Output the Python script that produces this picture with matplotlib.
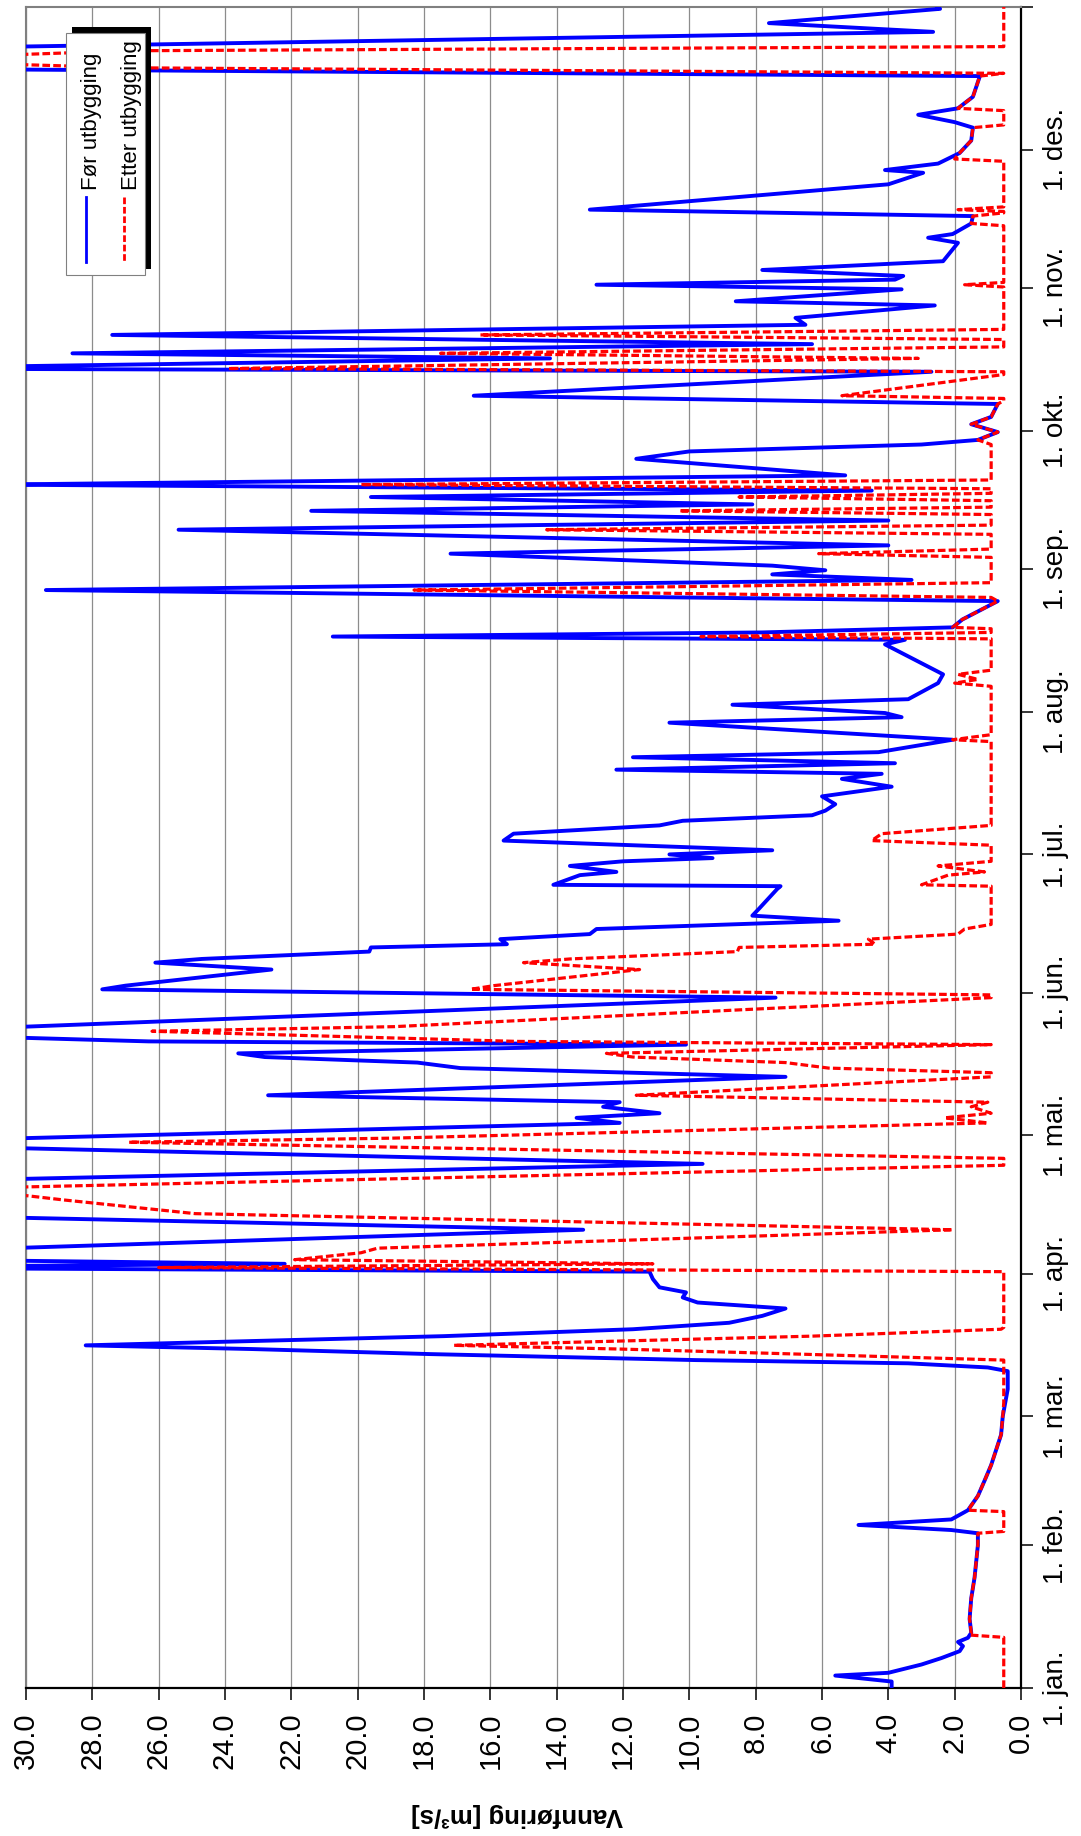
import matplotlib
matplotlib.use("Agg")
import matplotlib.pyplot as plt
from matplotlib.patches import Rectangle
from matplotlib.lines import Line2D

plt.rcParams["font.family"] = ["Liberation Sans", "DejaVu Sans"]


# --------------------------------
# DATA  (day of year, m3/s)
# --------------------------------

for_days = [
    0, 1.4, 2.7, 3.3, 5.1, 6.5, 8.0, 9.1, 10.0, 10.9, 12.0, 15.0, 19.5, 24.0,
    31.0, 33.6, 34.3, 35.4, 36.6, 38.6, 41.7, 45.0, 48.4, 51.7, 55.0, 59.0,
    64.9, 68.8, 69.6, 70.5, 71.2, 72.5, 73.6, 74.4, 75.0, 76.4, 77.9, 79.3,
    80.8, 82.4, 83.7, 84.8, 85.9, 87.0, 88.8, 90.4, 91.3, 92.1, 93.0, 94.5,
    95.5, 99.5, 103.0, 106.0, 108.5, 113.8, 118.5, 119.4, 122.7, 123.8, 124.8,
    126.2, 127.2, 128.7, 132.7, 134.6, 135.8, 137.0, 137.8, 139.7, 140.4,
    142.6, 143.6, 149.9, 151.7, 152.5, 156.0, 157.5, 158.3, 159.9, 160.8,
    161.5, 162.6, 163.7, 164.8, 166.6, 167.7, 169.2, 173.5, 174.1, 174.4,
    176.5, 177.2, 178.5, 179.5, 180.2, 181.0, 181.9, 184.0, 185.5, 187.3,
    188.3, 189.5, 190.5, 191.9, 193.6, 195.7, 197.4, 198.5, 199.4, 200.8,
    202.1, 203.2, 205.9, 209.6, 210.8, 211.7, 213.5, 214.7, 218.2, 220.1,
    226.6, 227.6, 228.3, 229.2, 230.3, 232.0, 236.0, 238.4, 240.6, 241.8,
    242.7, 243.7, 246.3, 248.1, 251.5, 253.5, 255.6, 257.0, 258.6, 260.0,
    261.3, 263.3, 266.9, 268.5, 270.0, 271.0, 272.7, 274.4, 276.0, 278.8,
    280.6, 285.8, 286.5, 288.7, 289.8, 291.8, 293.8, 296.0, 297.5, 300.2,
    301.1, 303.7, 304.7, 305.8, 306.6, 307.9, 309.8, 313.8, 314.9, 315.7,
    318.0, 319.6, 321.0, 326.5, 329.0, 329.6, 331.0, 333.3, 336.0, 338.8,
    340.0, 341.6, 343.0, 345.5, 350.0, 351.8, 353.5, 355.5, 359.6, 361.5,
    364.6, 365.0,
]

for_flow = [
    3.9, 3.9, 5.6, 4.0, 3.0, 2.4, 1.85, 1.75, 1.9, 1.6, 1.5, 1.55, 1.5, 1.4,
    1.3, 1.3, 2.1, 4.9, 2.1, 1.6, 1.3, 1.1, 0.9, 0.75, 0.6, 0.55,
    0.4, 0.4, 1.0, 3.4, 9.8, 17.8, 23.2, 28.2, 25.0, 17.4, 11.7, 8.8,
    7.8, 7.1, 9.75, 10.2, 10.1, 10.9, 11.1, 11.2, 37.0, 22.2, 33.0, 31.0,
    30.5, 13.2, 36.0, 40.0, 43.0, 9.6, 38.0, 30.0, 12.1, 13.4, 10.9,
    12.6, 12.1, 22.7, 7.1, 16.9, 18.2, 22.8, 23.6, 10.1, 26.3,
    37.0, 30.0, 7.4, 27.7, 27.0, 22.6, 26.1, 24.7, 19.65, 19.6,
    15.5, 15.7, 13.0, 12.8, 5.5, 8.1, 7.9, 7.35, 7.25, 14.1,
    13.3, 12.2, 13.6, 12.0, 9.3, 10.6, 7.5, 15.6, 15.3, 10.9,
    10.2, 6.3, 5.9, 5.6, 6.0, 3.9, 5.4, 4.2, 12.2, 3.8,
    11.7, 4.3, 2.06, 10.6, 3.6, 4.1, 8.7, 3.4, 2.5, 2.35,
    4.1, 3.5, 20.75, 7.8, 2.06, 1.77, 0.7, 29.4, 3.3, 7.5,
    5.9, 7.5, 17.2, 4.0, 25.4, 4.0, 21.4, 8.1, 19.6, 4.5,
    31.0, 5.3, 11.6, 10.0, 3.0, 1.3, 0.7, 1.5, 0.9, 0.7,
    16.5, 2.7, 35.0, 14.2, 28.6, 6.3, 27.4, 6.5, 6.8, 2.6,
    8.6, 3.6, 12.8, 3.8, 3.55, 7.8, 2.35, 1.9, 2.8, 2.06,
    1.5, 1.45, 13.0, 4.0, 2.95, 4.1, 2.5, 1.85, 1.5, 1.45,
    2.0, 3.1, 1.9, 1.45, 1.24, 38.0, 46.0, 38.0, 2.65, 7.6,
    2.44, 2.5,
]

etter_days = [
    0, 11.0, 11.5, 12.0, 15.0, 19.5, 24.0, 31.0, 33.6, 34.0, 38.3, 38.6,
    41.7, 45.0, 48.4, 51.7, 55.0, 59.0, 62.0, 71.2, 72.5, 73.6, 74.4, 75.0,
    76.4, 77.9, 78.3, 90.4, 91.3, 92.1, 93.0, 94.5, 95.5, 99.5, 103.0,
    106.0, 108.5, 113.5, 115.0, 118.5, 119.4, 122.7, 123.8, 124.8, 126.2,
    127.2, 128.7, 132.7, 133.6, 134.6, 135.8, 137.0, 137.8, 139.7, 140.4,
    142.6, 143.6, 149.9, 150.5, 151.7, 152.5, 156.0, 157.5, 158.3, 159.9,
    160.8, 161.5, 162.6, 163.7, 164.8, 165.8, 174.1, 174.4, 176.5, 177.2,
    178.5, 179.5, 183.0, 184.0, 185.5, 187.3, 205.5, 205.9, 207.0, 217.5,
    218.2, 219.0, 220.1, 221.0, 227.8, 228.3, 229.2, 230.0, 230.3, 232.0,
    236.0, 236.8, 238.4, 240.0, 245.5, 246.3, 247.3, 250.5, 251.5, 252.5,
    254.8, 255.6, 256.4, 257.8, 258.6, 259.4, 260.4, 261.3, 262.3, 270.0,
    271.0, 272.7, 274.4, 276.0, 278.8, 279.5, 280.0, 280.6, 285.2, 285.8,
    286.5, 288.7, 289.8, 291.2, 292.8, 293.8, 295.0, 304.2, 304.7, 305.2,
    317.5, 318.0, 319.6, 320.3, 320.6, 321.0, 321.6, 331.5, 332.0, 333.3,
    336.0, 338.8, 339.4, 342.5, 343.0, 345.5, 350.0, 350.6, 351.8, 353.5,
    355.5, 356.4, 365.0,
]

etter_flow = [
    0.52, 0.52, 1.55, 1.5, 1.55, 1.5, 1.4, 1.3, 1.3, 0.52, 0.52, 1.6,
    1.3, 1.1, 0.9, 0.75, 0.6, 0.55, 0.52, 0.52, 6.7, 12.1, 17.1, 13.9,
    6.3, 0.6, 0.52, 0.52, 26.0, 11.1, 21.9, 19.9, 19.4, 2.06, 24.9,
    28.9, 31.9, 0.52, 0.52, 26.9, 18.9, 1.0, 2.3, 0.9, 1.5,
    1.0, 11.6, 0.9, 0.9, 5.8, 7.1, 11.7, 12.5, 0.9, 15.2,
    26.2, 18.9, 0.9, 0.9, 16.6, 15.9, 11.5, 15.0, 13.6, 8.55,
    8.5, 4.4, 4.6, 1.9, 1.7, 0.9, 0.9, 3.0, 2.2, 1.1,
    2.5, 0.9, 0.9, 4.5, 4.2, 0.9, 0.9, 2.06, 0.9, 0.9,
    2.0, 1.3, 1.9, 0.9, 0.9, 9.65, 0.9, 0.9, 2.06, 1.77,
    0.7, 0.9, 18.3, 0.9, 0.9, 6.1, 0.9, 0.9, 14.3, 0.9,
    0.9, 10.3, 0.9, 0.9, 8.5, 0.9, 0.9, 19.9, 0.9, 0.9,
    1.3, 0.7, 1.5, 0.9, 0.7, 0.52, 0.52, 5.4, 0.52, 0.52,
    23.9, 3.1, 17.5, 0.52, 0.52, 16.3, 0.52, 0.52, 1.7, 0.52,
    0.52, 1.5, 1.45, 0.52, 0.52, 1.9, 0.52, 0.52, 2.0, 1.85,
    1.5, 1.45, 0.52, 0.52, 1.9, 1.45, 1.24, 0.52, 26.9, 34.9,
    26.9, 0.52, 0.52,
]

month_days = [0, 31, 59, 90, 120, 151, 181, 212, 243, 273, 304, 334, 365]
month_labels = [
    "1. jan.", "1. feb.", "1. mar.", "1. apr.", "1. mai.", "1. jun.",
    "1. jul.", "1. aug.", "1. sep.", "1. okt.", "1. nov.", "1. des.", "",
]
flow_ticks = [0, 2, 4, 6, 8, 10, 12, 14, 16, 18, 20, 22, 24, 26, 28, 30]


# --------------------------------
# FIGURE (page turned on its side)
# --------------------------------

W, H = 1081, 1836

fig = plt.figure(figsize=(W / 100, H / 100), dpi=100)

ax = fig.add_axes([26 / W, 1 - 1688 / H, (1021 - 26) / W, (1688 - 7) / H])

ax.plot(for_flow, for_days, color="#0000ff", lw=2.8, zorder=3)

ax.plot(
    etter_flow, etter_days,
    color="#ff0000", lw=2.3, linestyle=(0, (2.4, 1.0)), zorder=4
)

ax.set_xlim(30, 0)
ax.set_ylim(0, 365)


# --------------------------------
# AXES STYLE
# --------------------------------

ax.set_xticks(flow_ticks)
ax.set_xticklabels([f"{v:.1f}" for v in flow_ticks], rotation=90)

ax.yaxis.tick_right()
ax.set_yticks(month_days)
ax.set_yticklabels(month_labels, rotation=90, va="center")

ax.tick_params(axis="x", direction="out", length=8.6, width=1.1,
               pad=9, labelsize=21, colors="black")
ax.tick_params(axis="y", direction="out", length=8.6, width=1.1,
               pad=7, labelsize=20, colors="black")

ax.xaxis.grid(True, color="#8c8c8c", lw=0.9)
ax.set_axisbelow(True)

for side in ["top", "left"]:
    ax.spines[side].set_color("#808080")
    ax.spines[side].set_linewidth(1.5)

for side in ["right", "bottom"]:
    ax.spines[side].set_color("black")
    ax.spines[side].set_linewidth(1.6)

fig.text(
    517 / W, 1 - 1815 / H, "Vannføring [m³/s]",
    rotation=180, ha="center", va="center",
    fontsize=18.5, fontweight="bold"
)


# --------------------------------
# LEGEND BOX
# --------------------------------

def box(x0, y0, x1, y1, **kw):
    return Rectangle(
        (x0 / W, 1 - y1 / H), (x1 - x0) / W, (y1 - y0) / H,
        transform=fig.transFigure, **kw
    )


fig.patches.append(box(72, 27, 151, 269, facecolor="black",
                       edgecolor="none", zorder=10))
fig.patches.append(box(66, 33, 145, 275, facecolor="white",
                       edgecolor="#808080", lw=0.8, zorder=11))

fig.lines.append(Line2D(
    [85.5 / W, 85.5 / W], [1 - 197 / H, 1 - 262 / H],
    transform=fig.transFigure, color="#0000ff", lw=2.0, zorder=12
))
fig.lines.append(Line2D(
    [124 / W, 124 / W], [1 - 197 / H, 1 - 262 / H],
    transform=fig.transFigure, color="#ff0000", lw=2.0,
    linestyle=(0, (2.4, 1.0)), zorder=12
))

fig.text(92 / W, 1 - 190 / H, "Før utbygging", rotation=90,
         ha="center", va="bottom", fontsize=16, zorder=13)
fig.text(131 / W, 1 - 190 / H, "Etter utbygging", rotation=90,
         ha="center", va="bottom", fontsize=16, zorder=13)

fig.savefig("out.png", dpi=100)
